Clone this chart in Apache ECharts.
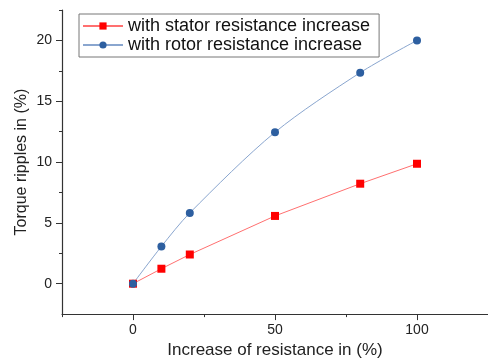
<!DOCTYPE html>
<html>
<head>
<meta charset="utf-8">
<script src="https://cdn.jsdelivr.net/npm/echarts@6/dist/echarts.min.js"></script>
<style>html,body{margin:0;padding:0;background:#fff}#c{width:488px;height:364px}</style>
</head>
<body>
<div id="c"></div>
<script>
const xValues = [0, 10, 20, 50, 80, 100];
const statorValues = [0, 1.23, 2.40, 5.57, 8.22, 9.86];
const rotorValues = [0, 3.06, 5.82, 12.45, 17.35, 20.0];
const xTickLabels = [0, 50, 100];
const xMinorTicks = [-25, 25, 75];
const yTickLabels = [0, 5, 10, 15, 20];
const yMinorTicks = [2.5, 7.5, 12.5, 17.5, 22.5];
const seriesNames = ['with stator resistance increase', 'with rotor resistance increase'];
const xName = 'Increase of resistance in (%)';
const yName = 'Torque ripples in (%)';

const font = 'Liberation Sans, Arial, sans-serif';
const axisColor = '#333';
const chart = echarts.init(document.getElementById('c'));
const pair = (xs, ys) => xs.map((x, i) => [x, ys[i]]);

chart.setOption({
  animation: false,
  backgroundColor: '#fff',
  textStyle: { fontFamily: font },
  grid: { left: 62, top: 10, right: 0, bottom: 49 },
  legend: {
    left: 79, top: 14, orient: 'vertical',
    padding: [3, 9, 3, 3], itemGap: 1,
    itemWidth: 40, itemHeight: 9,
    borderColor: '#777', borderWidth: 1,
    textStyle: { fontSize: 18, lineHeight: 18, color: '#111', fontFamily: font },
    data: seriesNames
  },
  xAxis: [{
    type: 'value', min: -25, max: 125, interval: 25,
    axisLine: { onZero: false, lineStyle: { color: axisColor, width: 1.2 } },
    axisTick: { customValues: xTickLabels, length: 6, lineStyle: { color: axisColor } },
    axisLabel: { customValues: xTickLabels, fontSize: 14, color: '#222', margin: 9, fontFamily: font },
    splitLine: { show: false },
    name: xName, nameLocation: 'middle', nameGap: 27,
    nameTextStyle: { fontSize: 17, color: '#222', fontFamily: font }
  }, {
    type: 'value', min: -25, max: 125, interval: 25, position: 'bottom',
    axisLine: { show: false, onZero: false },
    axisTick: { customValues: xMinorTicks, length: 3, lineStyle: { color: axisColor } },
    axisLabel: { show: false }, splitLine: { show: false }
  }],
  yAxis: [{
    type: 'value', min: -2.5, max: 22.5, interval: 2.5,
    axisLine: { show: true, onZero: false, lineStyle: { color: axisColor, width: 1.2 } },
    axisTick: { show: true, customValues: yTickLabels, length: 6, lineStyle: { color: axisColor } },
    axisLabel: { customValues: yTickLabels, fontSize: 14, color: '#222', margin: 10, fontFamily: font },
    splitLine: { show: false },
    name: yName, nameLocation: 'middle', nameGap: 32, nameMoveOverlap: false,
    nameTextStyle: { fontSize: 16, color: '#222', fontFamily: font }
  }, {
    type: 'value', min: -2.5, max: 22.5, interval: 2.5, position: 'left',
    axisLine: { show: false, onZero: false },
    axisTick: { show: true, customValues: yMinorTicks, length: 3, lineStyle: { color: axisColor } },
    axisLabel: { show: false }, splitLine: { show: false }
  }],
  series: [{
    name: seriesNames[0], type: 'line', data: pair(xValues, statorValues),
    symbol: 'rect', symbolSize: 8,
    itemStyle: { color: '#ff0000' },
    lineStyle: { color: '#ff7070', width: 1 }
  }, {
    name: seriesNames[1], type: 'line', data: pair(xValues, rotorValues),
    symbol: 'circle', symbolSize: 8, smooth: 0.3,
    itemStyle: { color: '#2d5fa0' },
    lineStyle: { color: '#8aa6cf', width: 1 }
  }]
});
</script>
</body>
</html>
